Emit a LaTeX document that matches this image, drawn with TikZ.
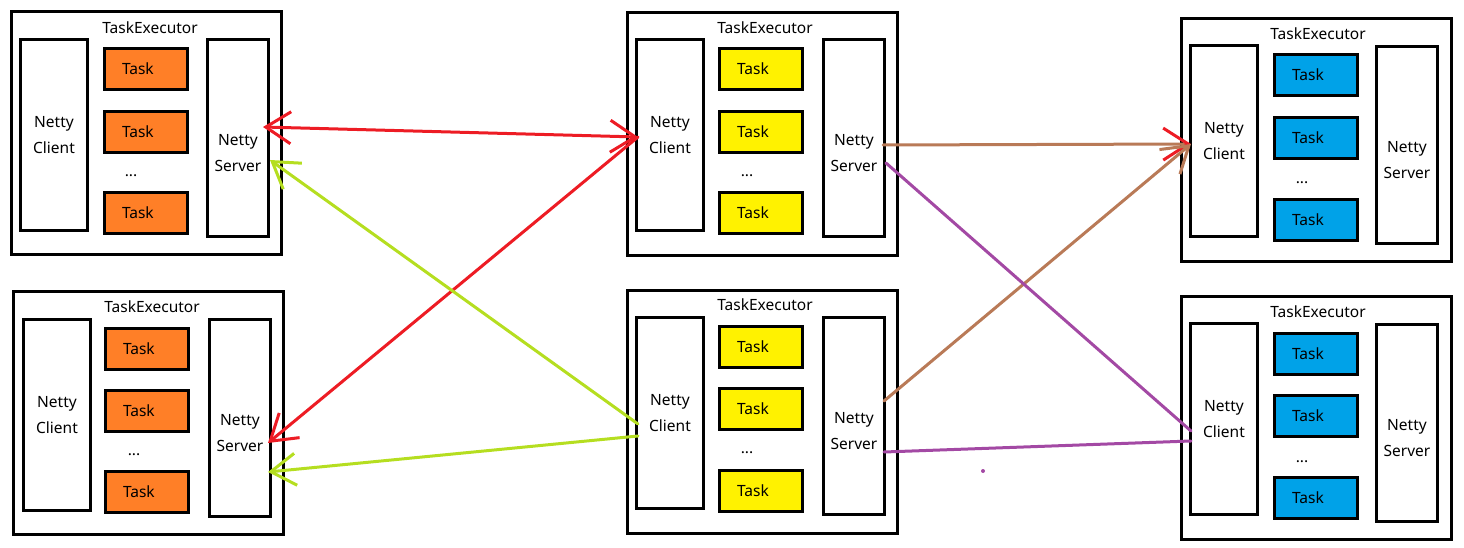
\documentclass[tikz,border=0pt]{standalone}
\usepackage{fontspec}
\setmainfont{Noto Sans}
\usetikzlibrary{arrows.meta}

\definecolor{paintred}{RGB}{237,28,36}
\definecolor{paintlime}{RGB}{181,222,32}
\definecolor{paintbrown}{RGB}{185,122,87}
\definecolor{paintpurple}{RGB}{163,73,164}
\definecolor{paintorange}{RGB}{255,127,39}
\definecolor{paintyellow}{RGB}{255,242,0}
\definecolor{paintblue}{RGB}{0,162,232}

\begin{document}
\begin{tikzpicture}[x=1pt,y=-1pt,font=\fontsize{15.5}{26}\selectfont,
  >={Straight Barb[length=25pt,width=32pt]}]
\tikzstyle{every node}=[inner sep=0pt];
\tikzstyle{box}=[draw,line width=3pt,anchor=north west];
\tikzstyle{executor}=[box,minimum width=270pt,minimum height=243pt];
\tikzstyle{client}=[box,minimum width=67pt,minimum height=191pt,align=center];
\tikzstyle{server}=[box,minimum width=61pt,minimum height=197pt];
\tikzstyle{stext}=[align=center];
\tikzstyle{task}=[box,minimum width=83pt,minimum height=41pt,text width=48pt,align=left];
\tikzstyle{link}=[line width=3pt,line cap=round];
\useasboundingbox (0,0) rectangle (1464,548);

% top left
\node[executor] (e1) at (10,10) {};
\node (t1) at (150,28) {TaskExecutor};
\node[client] (c1) at (19,38) {Netty\\Client};
\node[task,fill=paintorange] (k11) at (103,47) {Task};
\node[task,fill=paintorange] (k12) at (103,110) {Task};
\node (d1) at (131,176) {...};
\node[task,fill=paintorange] (k13) at (103,191) {Task};
\node[server] (s1) at (206,38) {};
\node[stext] (n1) at ([yshift=-15pt]s1.center) {Netty\\Server};

% top middle
\node[executor] (e2) at (626,11) {};
\node (t2) at (765,28) {TaskExecutor};
\node[client] (c2) at (635,38) {Netty\\Client};
\node[task,fill=paintyellow] (k21) at (718,47) {Task};
\node[task,fill=paintyellow] (k22) at (718,110) {Task};
\node (d2) at (747,176) {...};
\node[task,fill=paintyellow] (k23) at (718,191) {Task};
\node[server] (s2) at (822,38) {};
\node[stext] (n2) at ([yshift=-15pt]s2.center) {Netty\\Server};

% top right
\node[executor] (e3) at (1180,17) {};
\node (t3) at (1318,34) {TaskExecutor};
\node[client] (c3) at (1189,44) {Netty\\Client};
\node[task,fill=paintblue] (k31) at (1273,53) {Task};
\node[task,fill=paintblue] (k32) at (1273,116) {Task};
\node (d3) at (1302,183) {...};
\node[task,fill=paintblue] (k33) at (1273,198) {Task};
\node[server] (s3) at (1375,45) {};
\node[stext] (n3) at ([yshift=-15pt]s3.center) {Netty\\Server};

% bottom left
\node[executor] (e4) at (12,290) {};
\node (t4) at (152,307) {TaskExecutor};
\node[client] (c4) at (22,318) {Netty\\Client};
\node[task,fill=paintorange] (k41) at (104,327) {Task};
\node[task,fill=paintorange] (k42) at (104,389) {Task};
\node (d4) at (134,455) {...};
\node[task,fill=paintorange] (k43) at (104,470) {Task};
\node[server] (s4) at (208,318) {};
\node[stext] (n4) at ([yshift=-15pt]s4.center) {Netty\\Server};

% bottom middle
\node[executor] (e5) at (626,289) {};
\node (t5) at (765,305) {TaskExecutor};
\node[client] (c5) at (635,316) {Netty\\Client};
\node[task,fill=paintyellow] (k51) at (718,325) {Task};
\node[task,fill=paintyellow] (k52) at (718,387) {Task};
\node (d5) at (747,453) {...};
\node[task,fill=paintyellow] (k53) at (718,469) {Task};
\node[server] (s5) at (822,316) {};
\node[stext] (n5) at ([yshift=-15pt]s5.center) {Netty\\Server};

% bottom right
\node[executor] (e6) at (1180,295) {};
\node (t6) at (1318,312) {TaskExecutor};
\node[client] (c6) at (1189,322) {Netty\\Client};
\node[task,fill=paintblue] (k61) at (1273,332) {Task};
\node[task,fill=paintblue] (k62) at (1273,394) {Task};
\node (d6) at (1302,462) {...};
\node[task,fill=paintblue] (k63) at (1273,476) {Task};
\node[server] (s6) at (1375,323) {};
\node[stext] (n6) at ([yshift=-15pt]s6.center) {Netty\\Server};

% links
\draw[link,paintred,<->] ([xshift=-7pt,yshift=11pt]s1.east) -- ([xshift=3pt,yshift=-2pt]c2.west);
\draw[link,paintred,->] ([xshift=3pt,yshift=-2pt]c2.west) -- ([xshift=-4pt,yshift=-25pt]s4.east);
\draw[link,paintlime,->] ([xshift=3pt,yshift=-11pt]c5.west) -- ([yshift=-22pt]s1.east);
\draw[link,paintlime,->] ([xshift=3pt,yshift=-23pt]c5.west) -- ([xshift=-4pt,yshift=-54pt]s4.east);
\draw[link,paintbrown,-{Straight Barb[length=25pt,width=32pt,color=paintred]}] ([xshift=-3pt,yshift=-7pt]s2.east) -- ([xshift=2pt,yshift=-3pt]c3.west);
\draw[link,paintbrown,->] ([xshift=-2pt,yshift=15pt]s5.east) -- ([xshift=2pt,yshift=-3pt]c3.west);
\draw[link,paintpurple] ([yshift=-25pt]s2.east) -- ([xshift=2pt,yshift=-12pt]c6.west);
\draw[link,paintpurple] ([xshift=-2pt,yshift=-36pt]s5.east) -- ([xshift=2pt,yshift=-22pt]c6.west);
\fill[paintpurple] (983,471) circle (2pt);
\end{tikzpicture}
\end{document}
